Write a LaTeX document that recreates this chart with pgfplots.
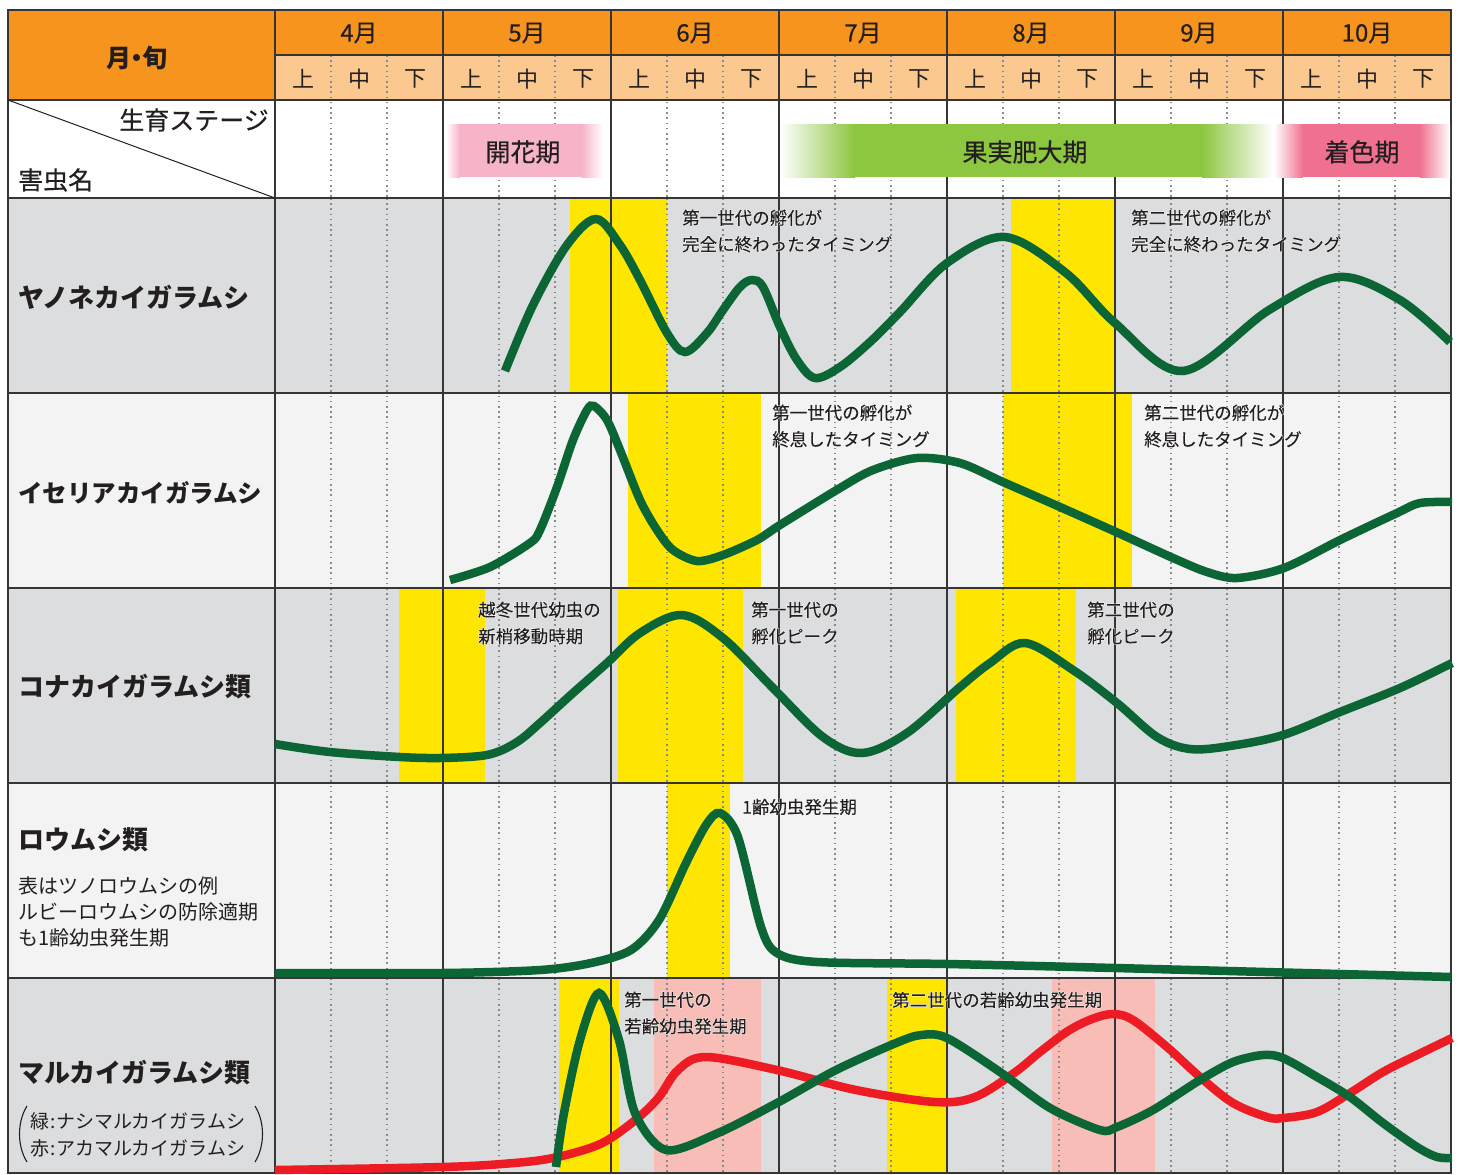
\documentclass[border=0pt]{standalone}
\usepackage{pgfplots}
\pgfplotsset{compat=1.18}
\usepackage{fontspec}
\setmainfont{Noto Sans CJK JP}
\newfontfamily\medfont{Noto Sans CJK JP}[FakeBold=0.5]
\newfontfamily\halofont{Noto Sans CJK JP}[FakeBold=6]
\newfontfamily\annmain{Noto Sans CJK JP}[FakeBold=0.3]
\definecolor{hdr}{HTML}{F7941D}
\definecolor{hdrl}{HTML}{FBC890}
\definecolor{bgd}{HTML}{DCDDDE}
\definecolor{bgl}{HTML}{F3F3F3}
\definecolor{yel}{HTML}{FFE600}
\definecolor{pnk}{HTML}{F8BDB6}
\definecolor{dg}{HTML}{0B6535}
\definecolor{rd}{HTML}{ED1C24}
\definecolor{gband}{HTML}{8DC63F}
\definecolor{pband}{HTML}{F7B3C8}
\definecolor{cband}{HTML}{F07090}
\definecolor{txt}{HTML}{231F20}
\definecolor{gridc}{HTML}{353535}
\definecolor{dotc}{HTML}{8A8A8A}
\newcommand\band[5]{\addplot[draw=none,fill=#1] coordinates {(#2,#4) (#3,#4) (#3,#5) (#2,#5)} -- cycle;}
\newcommand\halo[2]{%
 \node[anchor=west,inner sep=0pt,align=left,font=\halofont\fontsize{17.5}{26.5}\selectfont,text=white] at (axis cs:#1) {#2};
 \node[anchor=west,inner sep=0pt,align=left,font=\annmain\fontsize{17.5}{26.5}\selectfont,text=txt] at (axis cs:#1) {#2};
}
\begin{document}
\begin{tikzpicture}
\begin{axis}[scale only axis, width=1459pt, height=1175pt,
  xmin=0, xmax=1459, ymin=0, ymax=1175, y dir=reverse,
  hide axis, clip=false]
% backgrounds
\fill[white] (axis cs:0,0) rectangle (axis cs:1459,1175);
\fill[hdr] (axis cs:8,10) rectangle (axis cs:1451,55);
\fill[hdr] (axis cs:8,10) rectangle (axis cs:275,100);
\fill[hdrl] (axis cs:275,55) rectangle (axis cs:1451,100);
\fill[bgd] (axis cs:8,198) rectangle (axis cs:1451,393);
\fill[bgl] (axis cs:8,393) rectangle (axis cs:1451,588);
\fill[bgd] (axis cs:8,588) rectangle (axis cs:1451,783);
\fill[bgl] (axis cs:8,783) rectangle (axis cs:1451,978);
\fill[bgd] (axis cs:8,978) rectangle (axis cs:1451,1173);
% dotted lines in header and stage rows
\pgfplotsinvokeforeach{331,387,499,555,667,723,835,891,1003,1059,1171,1227,1339,1395}{
  \draw[dotc, line width=1.6pt, dash pattern=on 1.6pt off 3.6pt] (axis cs:#1,55) -- (axis cs:#1,198);
}
% period bands
\band{yel}{570}{667}{198}{393}
\band{yel}{1011}{1115}{198}{393}
\band{yel}{628}{761}{393}{588}
\band{yel}{1003}{1132}{393}{588}
\band{yel}{399}{485}{588}{783}
\band{yel}{618}{743}{588}{783}
\band{yel}{956}{1076}{588}{783}
\band{yel}{667}{730}{783}{978}
\band{yel}{559}{619}{978}{1173}
\band{pnk}{654}{761}{978}{1173}
\band{yel}{887}{947}{978}{1173}
\band{pnk}{1052}{1155}{978}{1173}
% dotted lines in panels
\pgfplotsinvokeforeach{331,387,499,555,667,723,835,891,1003,1059,1171,1227,1339,1395}{
  \draw[dotc, line width=1.6pt, dash pattern=on 1.6pt off 3.6pt] (axis cs:#1,198) -- (axis cs:#1,1173);
}
% solid grid lines
\pgfplotsinvokeforeach{10,100,198,393,588,783,978,1173}{
  \draw[gridc, line width=2pt] (axis cs:7,#1) -- (axis cs:1452,#1);
}
\draw[gridc, line width=2pt] (axis cs:275,55) -- (axis cs:1452,55);
\pgfplotsinvokeforeach{8,275,443,611,779,947,1115,1283,1451}{
  \draw[gridc, line width=2pt] (axis cs:#1,9) -- (axis cs:#1,1174);
}
\draw[txt, line width=1pt] (axis cs:8,100) -- (axis cs:275,198);
% stage bands
\shade[left color=white, right color=pband] (axis cs:446,124) rectangle (axis cs:460,177);
\fill[pband] (axis cs:459.5,124) rectangle (axis cs:582,177);
\shade[left color=pband, right color=white] (axis cs:581.5,124) rectangle (axis cs:603,177);
\shade[left color=white, right color=gband] (axis cs:780,124) rectangle (axis cs:855,177);
\fill[gband] (axis cs:854.5,124) rectangle (axis cs:1202,177);
\shade[left color=gband, right color=white] (axis cs:1201.5,124) rectangle (axis cs:1273,177);
\shade[left color=white, right color=cband] (axis cs:1274,124) rectangle (axis cs:1303,177);
\fill[cband] (axis cs:1302.5,124) rectangle (axis cs:1420,177);
\shade[left color=cband, right color=white] (axis cs:1419.5,124) rectangle (axis cs:1450,177);
\node[text=txt, font=\medfont\fontsize{25}{30}\selectfont, inner sep=0pt] at (axis cs:523,152) {開花期};
\node[text=txt, font=\medfont\fontsize{25}{30}\selectfont, inner sep=0pt] at (axis cs:1025,152) {果実肥大期};
\node[text=txt, font=\medfont\fontsize{25}{30}\selectfont, inner sep=0pt] at (axis cs:1362,152) {着色期};
% header texts
\node[text=txt, font=\bfseries\fontsize{25}{30}\selectfont, inner sep=0pt] at (axis cs:137,58) {月\kern-7pt・\kern-7pt旬};
\pgfplotsinvokeforeach{4,5,6,7,8,9,10}{
  \node[text=txt, font=\medfont\fontsize{24}{28}\selectfont, inner sep=0pt] at (axis cs:{275+168*(#1-4)+84},33) {#1月};
}
\pgfplotsinvokeforeach{0,1,2,3,4,5,6}{
  \node[text=txt, font=\fontsize{22}{26}\selectfont, inner sep=0pt] at (axis cs:{275+168*#1+28},79) {上};
  \node[text=txt, font=\fontsize{22}{26}\selectfont, inner sep=0pt] at (axis cs:{275+168*#1+84},79) {中};
  \node[text=txt, font=\fontsize{22}{26}\selectfont, inner sep=0pt] at (axis cs:{275+168*#1+140},79) {下};
}
\node[text=txt, anchor=east, font=\medfont\fontsize{25}{30}\selectfont, inner sep=0pt] at (axis cs:269,120) {生育ステージ};
\node[text=txt, anchor=west, font=\medfont\fontsize{25}{30}\selectfont, inner sep=0pt] at (axis cs:18,180) {害虫名};
% pest names
\node[text=txt, anchor=west, font=\bfseries\fontsize{26}{30}\selectfont, inner sep=0pt] at (axis cs:18,297) {ヤノネカイガラムシ};
\node[text=txt, anchor=west, font=\bfseries\fontsize{24.5}{30}\selectfont, inner sep=0pt] at (axis cs:18,493) {イセリアカイガラムシ};
\node[text=txt, anchor=west, font=\bfseries\fontsize{26}{30}\selectfont, inner sep=0pt] at (axis cs:18,687) {コナカイガラムシ類};
\node[text=txt, anchor=west, font=\bfseries\fontsize{26}{30}\selectfont, inner sep=0pt] at (axis cs:18,840) {ロウムシ類};
\node[text=txt, anchor=west, align=left, font=\fontsize{20}{26}\selectfont, inner sep=0pt] at (axis cs:18,912) {表はツノロウムシの例\\ルビーロウムシの防除適期\\も1齢幼虫発生期};
\node[text=txt, anchor=west, font=\bfseries\fontsize{26}{30}\selectfont, inner sep=0pt] at (axis cs:18,1073) {マルカイガラムシ類};
\node[text=txt, anchor=west, align=left, font=\fontsize{19}{26.5}\selectfont, inner sep=0pt] at (axis cs:30,1135) {緑\kern1pt:\kern1ptナシマルカイガラムシ\\赤\kern1pt:\kern1ptアカマルカイガラムシ};
\draw[txt, line width=1.1pt] (axis cs:27,1106) .. controls (axis cs:17,1122) and (axis cs:17,1146) .. (axis cs:27,1162);
\draw[txt, line width=1.1pt] (axis cs:255,1106) .. controls (axis cs:265,1122) and (axis cs:265,1146) .. (axis cs:255,1162);
% curves
\addplot[dg, line width=8.5pt, smooth, tension=0.55] coordinates {
 (505,371) (533,305) (567,245) (596,219) (620,245) (640,280) (667,333) (685,352) (707,333) (723,310) (740,287) (752,280) (763,287) (780,327) (797,360) (815,378) (840,367) (870,342) (900,312) (947,263) (1005,237) (1066,273) (1115,323) (1183,371) (1269,310) (1339,277) (1400,300) (1450,342)};
\addplot[dg, line width=8.5pt, smooth, tension=0.5] coordinates {
 (450,580) (490,567) (530,543) (540,530) (557,487) (573,440) (587,410) (594,406) (607,420) (620,450) (640,500) (657,530) (673,550) (697,561) (723,555) (757,540) (780,525) (840,488) (873,470) (917,458) (960,463) (1003,482) (1060,507) (1116,532) (1173,558) (1207,572) (1237,578) (1284,568) (1340,540) (1397,513) (1420,503) (1452,502)};
\addplot[dg, line width=8.5pt, smooth, tension=0.55] coordinates {
 (275,744) (330,752) (400,757) (440,758) (480,756) (500,751) (520,740) (540,723) (573,693) (607,663) (640,633) (682,615) (723,638) (773,688) (823,737) (862,753) (907,733) (960,687) (990,663) (1025,643) (1073,670) (1117,703) (1157,737) (1190,749) (1230,746) (1283,735) (1340,712) (1400,688) (1452,663)};
\addplot[dg, line width=8.5pt, smooth, tension=0.5] coordinates {
 (275,973) (443,973) (540,970) (591,963) (631,950) (659,920) (686,863) (706,825) (720,813) (738,837) (761,927) (777,953) (817,962) (947,964) (1115,968) (1451,977)};
\addplot[rd, line width=8.5pt, smooth, tension=0.55] coordinates {
 (275,1170) (443,1167) (514,1163) (553,1158) (590,1148) (611,1138) (639,1117) (659,1097) (678,1070) (706,1057) (777,1070) (856,1090) (935,1102) (975,1097) (1014,1073) (1040,1052) (1068,1031) (1092,1019) (1113,1014) (1133,1020) (1167,1047) (1200,1077) (1233,1103) (1267,1117) (1283,1118) (1317,1112) (1350,1093) (1383,1072) (1417,1055) (1452,1038)};
\addplot[dg, line width=8.5pt, smooth, tension=0.5] coordinates {
 (556,1167) (564,1113) (580,1040) (599,993) (619,1040) (635,1113) (666,1150) (718,1133) (777,1103) (836,1070) (896,1043) (921,1035) (947,1038) (1000,1072) (1050,1108) (1100,1130) (1117,1127) (1153,1110) (1200,1080) (1233,1062) (1263,1055) (1283,1058) (1317,1077) (1350,1097) (1383,1123) (1417,1147) (1437,1157) (1452,1158)};
% annotations
\halo{682,231}{第一世代の孵化が\\完全に終わったタイミング}
\halo{1131,231}{第二世代の孵化が\\完全に終わったタイミング}
\halo{772,426}{第一世代の孵化が\\終息したタイミング}
\halo{1144,426}{第二世代の孵化が\\終息したタイミング}
\halo{478,623}{越冬世代幼虫の\\新梢移動時期}
\halo{751,623}{第一世代の\\孵化ピーク}
\halo{1087,623}{第二世代の\\孵化ピーク}
\halo{742,807}{1齢幼虫発生期}
\halo{624,1013}{第一世代の\\若齢幼虫発生期}
\halo{892,1000}{第二世代の若齢幼虫発生期}
\end{axis}
\end{tikzpicture}
\end{document}
